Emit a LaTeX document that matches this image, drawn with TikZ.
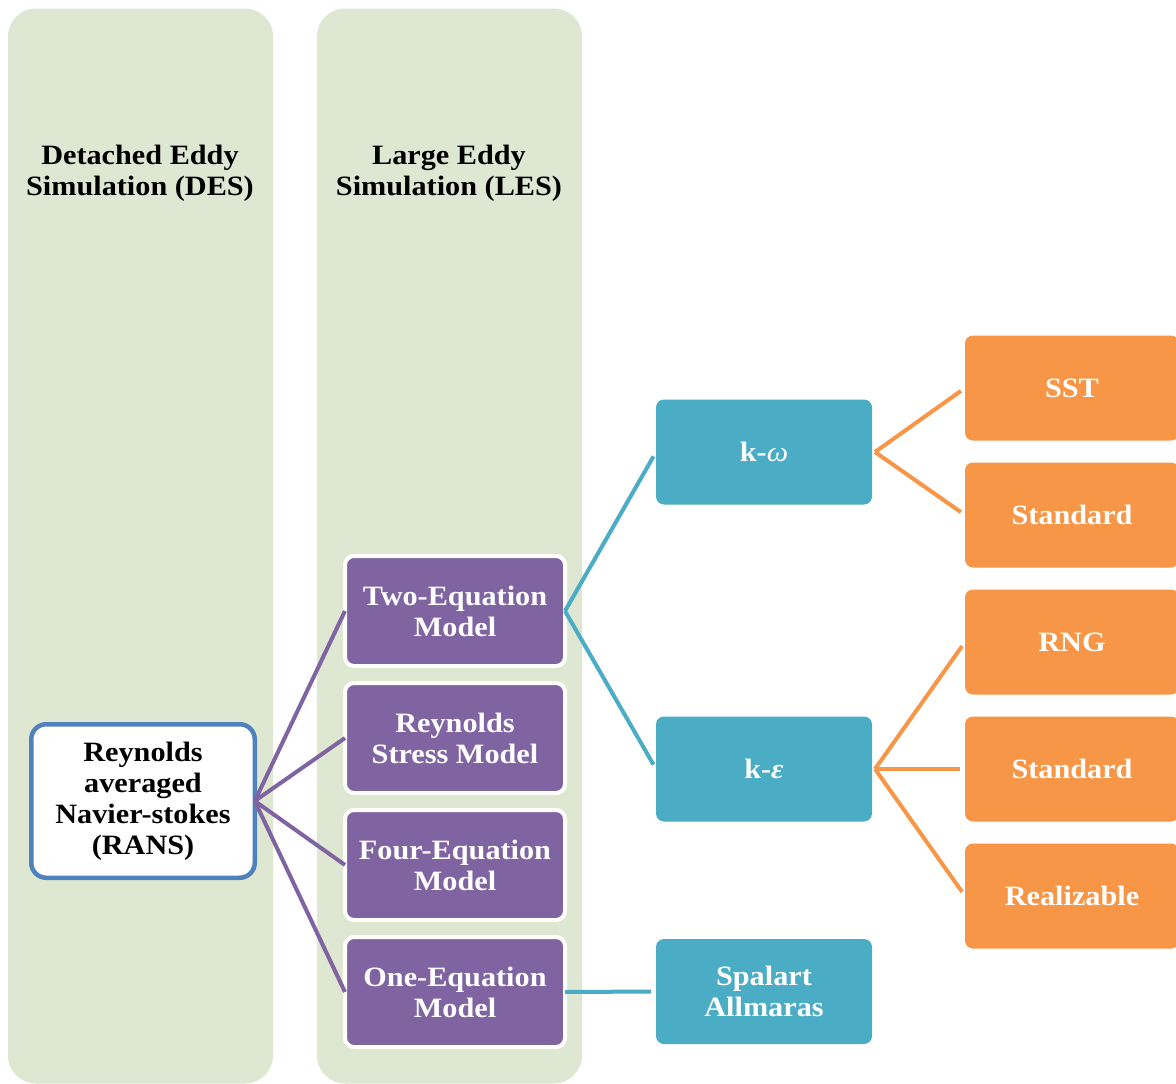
\documentclass[tikz,border=0pt]{standalone}
\usepackage{fontspec}
\setmainfont[FakeStretch=1.08]{Liberation Serif}
\definecolor{colgreen}{HTML}{DEE7D1}
\definecolor{rpurple}{HTML}{8064A2}
\definecolor{rteal}{HTML}{4BACC6}
\definecolor{rorange}{HTML}{F79646}
\definecolor{rblue}{HTML}{4F81BD}
\begin{document}
\begin{tikzpicture}[x=1pt,y=-1pt,
  txt/.style={font=\fontsize{28}{31}\selectfont\bfseries, align=center},
  column/.style={fill=colgreen, rounded corners=28pt, minimum width=265pt,
    minimum height=1075pt, inner sep=0pt, outer sep=0pt},
  ransbox/.style={txt, draw=rblue, line width=4.5pt, fill=white, rounded corners=15pt,
    minimum width=223.5pt, minimum height=153.5pt, inner sep=0pt, outer sep=0pt},
  modelbox/.style={txt, text=white, fill=rpurple, draw=white, line width=4pt,
    rounded corners=9pt, minimum width=220pt, minimum height=110pt,
    inner sep=0pt, outer sep=0pt},
  tealbox/.style={txt, text=white, fill=rteal, rounded corners=8pt,
    minimum width=216pt, minimum height=105pt, inner sep=0pt, outer sep=0pt},
  orangebox/.style={txt, text=white, fill=rorange, rounded corners=8pt,
    minimum width=214pt, minimum height=105pt, inner sep=0pt, outer sep=0pt},
  purplelink/.style={draw=rpurple, line width=4pt},
  teallink/.style={draw=rteal, line width=4pt, shorten >=5pt},
  orangelink/.style={draw=rorange, line width=4pt, shorten >=5pt}]

\useasboundingbox (0,0) rectangle (1176,1084);
\clip (0,0) rectangle (1176,1084);
\fill[white] (0,0) rectangle (1176,1084);

% method columns
\node[column] (descol) at (140.5,546) {};
\node[column] (lescol) at (449.5,546) {};
\node[txt] (destitle) at (140,173) {Detached Eddy\\Simulation (DES)};
\node[txt] (lestitle) at (449,173) {Large Eddy\\Simulation (LES)};

% RANS and its model families
\node[ransbox] (rans) at (143,801) {Reynolds\\averaged\\Navier-stokes\\(RANS)};
\node[modelbox] (two)  at (455,611) {Two-Equation\\Model};
\node[modelbox] (rsm)  at (455,738) {Reynolds\\Stress Model};
\node[modelbox] (four) at (455,865) {Four-Equation\\Model};
\node[modelbox] (one)  at (455,992) {One-Equation\\Model};

\draw[purplelink] (rans.east) -- (two.west);
\draw[purplelink] (rans.east) -- (rsm.west);
\draw[purplelink] (rans.east) -- (four.west);
\draw[purplelink] (rans.east) -- (one.west);

% closure models
\node[tealbox] (kw) at (764,452) {k-\textit{\mdseries ω}};
\node[tealbox] (ke) at (764,769) {k-\textit{ε}};
\node[tealbox] (sa) at (764,991.5) {Spalart\\Allmaras};

\draw[teallink] (two.east) -- (kw.west);
\draw[teallink] (two.east) -- (ke.west);
\draw[teallink] (one.east) -- (sa.west);

% model variants
\node[orangebox] (sst)  at (1072,388) {SST};
\node[orangebox] (kws)  at (1072,515) {Standard};
\node[orangebox] (rng)  at (1072,642) {RNG};
\node[orangebox] (kes)  at (1072,769) {Standard};
\node[orangebox] (real) at (1072,896) {Realizable};

\draw[orangelink] ([xshift=3pt]kw.east) -- (sst.west);
\draw[orangelink] ([xshift=3pt]kw.east) -- (kws.west);
\draw[orangelink] ([xshift=3pt]ke.east) -- (rng.west);
\draw[orangelink] ([xshift=3pt]ke.east) -- (kes.west);
\draw[orangelink] ([xshift=3pt]ke.east) -- (real.west);
\end{tikzpicture}
\end{document}
